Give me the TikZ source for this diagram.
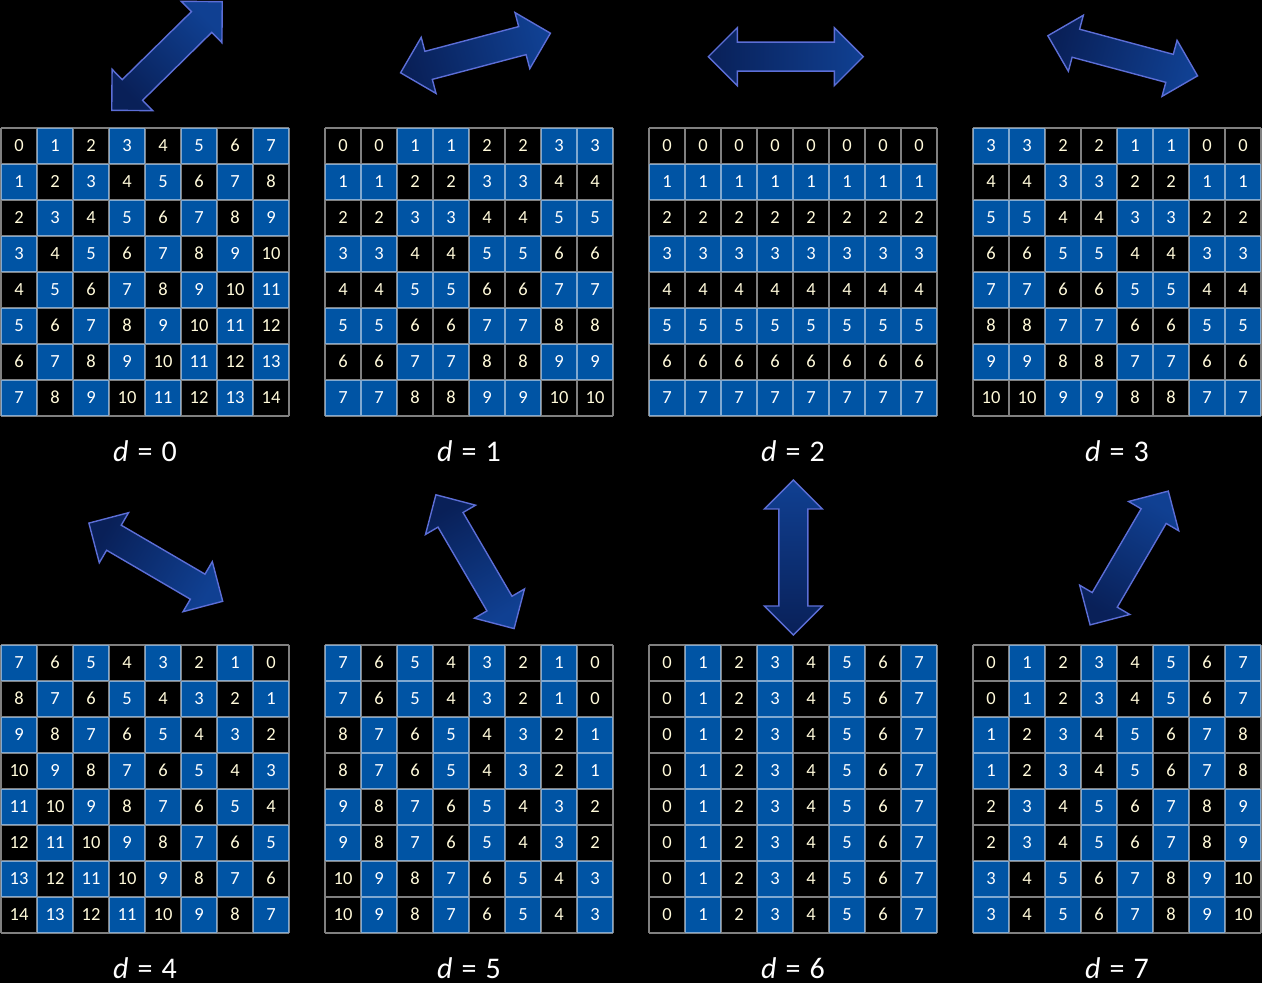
\documentclass[tikz,border=0pt]{standalone}
\usepackage{fontspec}
\setmainfont{Carlito}
\usepackage{tikz}

\definecolor{cellblue}{RGB}{0,84,164}
\definecolor{numcream}{RGB}{255,250,218}
\definecolor{arrowdark}{RGB}{9,32,88}
\definecolor{arrowlight}{RGB}{16,64,146}
\definecolor{arrowedge}{RGB}{92,110,214}

\tikzset{
  cellbox/.style={minimum size=36pt, inner sep=0pt, text height=11.6pt, text depth=0pt,
    font=\fontsize{18.5}{20}\selectfont},
  gridlines/.style={draw=white, draw opacity=0.5, line width=1.2pt},
  dlabel/.style={text=white, font=\fontsize{30}{34}\selectfont, anchor=base, inner sep=0pt},
  swaparrow/.style={draw=arrowedge, line width=1.4pt, top color=arrowlight, bottom color=arrowdark}
}

\begin{document}
\begin{tikzpicture}[x=1pt,y=1pt]
\path[use as bounding box, fill=black] (0,0) rectangle (1262,983);
% grids: d / left edge / top edge / cell value
\foreach \d/\gx/\gy/\val in {0/1/855/{\row+\col}, 1/325/855/{\row+floor(\col*0.5)},
    2/649/855/{\row}, 3/973/855/{\row+floor((7-\col)*0.5)},
    4/1/338/{\row+7-\col}, 5/325/338/{floor(\row*0.5)+7-\col},
    6/649/338/{\col}, 7/973/338/{floor(\row*0.5)+\col}}{
  \foreach \row in {0,...,7}
    \foreach \col in {0,...,7}{
      \pgfmathtruncatemacro\v{\val}
      \ifodd\v \def\cfill{cellblue}\def\ctext{white}\else\def\cfill{black}\def\ctext{numcream}\fi
      \node[cellbox, fill=\cfill, text=\ctext] (g\d-\row-\col) at (\gx+18+36*\col, \gy-18-36*\row) {\v};
    }
  \begin{scope}[shift={(\gx,\gy-288)}]
    \draw[gridlines] (0,0) grid[step=36] (288.1,288.1);
  \end{scope}
  \node[dlabel] (lab\d) at (\gx+144, \gy-334) {{\itshape d}\hspace{0.3em}=\hspace{0.3em}\d};
}
% swap arrows: centre x / centre y / angle
\foreach \a/\ax/\ay/\ang in {0/167/927/44.5, 1/475.5/930/14.8, 2/785.8/926.3/0, 3/1122.7/927.2/-15,
    4/155.8/420.8/-30.3, 5/475/421.3/-59.7, 6/793.3/425.5/90, 7/1129.2/425/59.7}{
  \pgfmathsetmacro\sang{\ang-90}
  \draw[swaparrow, shading angle=\sang, shift={(\ax,\ay)}, rotate=\ang]
    (-77.5,0) -- (-48.5,29) -- (-48.5,14.5) -- (48.5,14.5) -- (48.5,29) -- (77.5,0)
    -- (48.5,-29) -- (48.5,-14.5) -- (-48.5,-14.5) -- (-48.5,-29) -- cycle;
}
\end{tikzpicture}
\end{document}
